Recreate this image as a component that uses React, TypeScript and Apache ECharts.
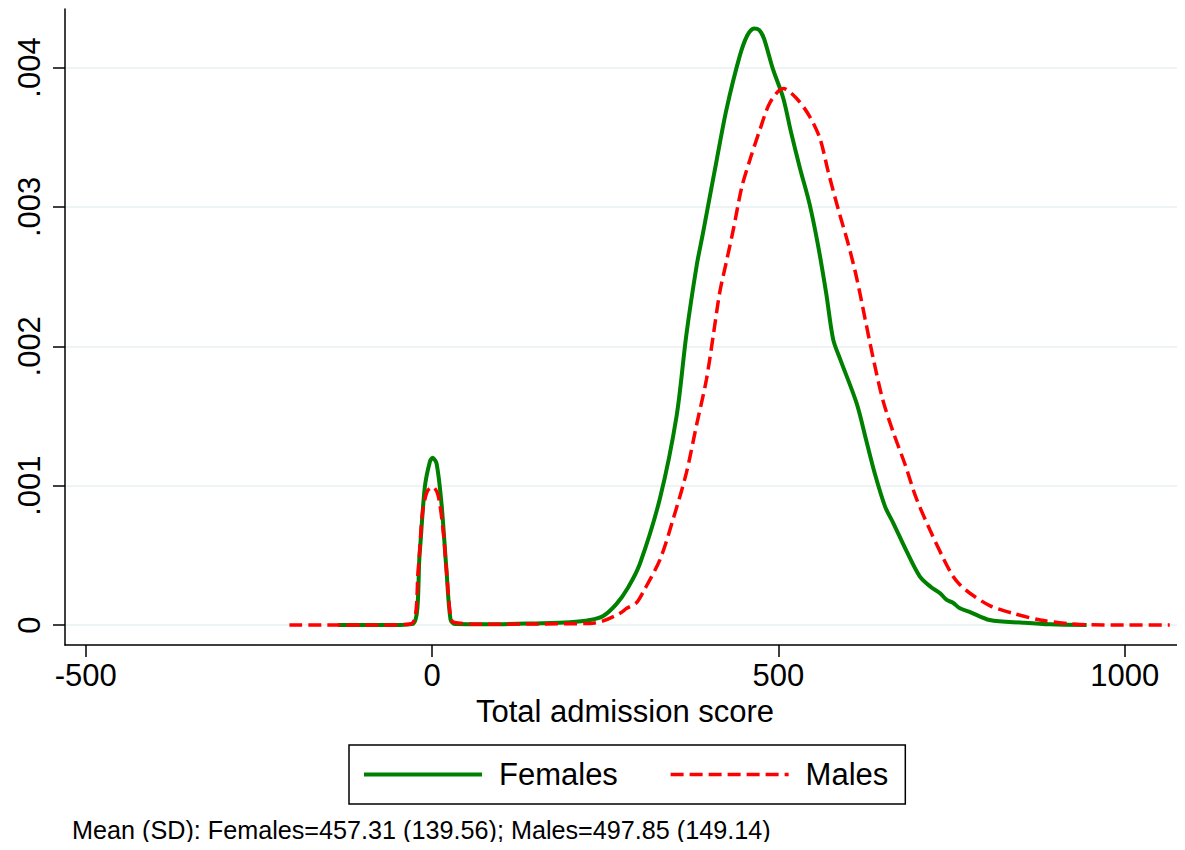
import React, { useEffect, useRef } from "react";
import * as echarts from "echarts";

const FONT = "'Liberation Sans', Arial, Helvetica, sans-serif";

const X_TICKS = [-500, 0, 500, 1000];
const Y_TICKS = [0, 0.001, 0.002, 0.003, 0.004];
const Y_TICK_LABELS = ["0", ".001", ".002", ".003", ".004"];

const SERIES_NAMES = ["Females", "Males"];

const femaleX = [
  -136, -60, -27, -18, -10.5, -3.3, 0.6, 6.4, 13.6, 20.8, 26.6, 33, 80, 150, 199,
  228, 247, 266, 283, 300, 329, 353, 367, 382, 391, 411, 425, 444, 455, 465, 472,
  479, 492, 507, 518, 531, 545, 557, 569, 579, 589, 613, 627, 639, 654, 666, 685,
  704, 721, 733, 743, 752, 762, 776, 805, 853, 892, 945,
];
const femaleY = [
  0, 0, 0.00001, 0.00051, 0.00099, 0.00117, 0.0012, 0.00116, 0.00087, 0.00039,
  0.00004, 0.000007, 0.000005, 0.000012, 0.00002, 0.000036, 0.000065, 0.00015,
  0.00027, 0.00044, 0.00091, 0.0015, 0.00208, 0.00258, 0.00281, 0.00334, 0.0037,
  0.00408, 0.00423, 0.00428, 0.00427, 0.00421, 0.00399, 0.00378, 0.00354, 0.00328,
  0.00302, 0.00273, 0.00238, 0.00205, 0.00191, 0.00159, 0.00132, 0.00109, 0.00085,
  0.00073, 0.00053, 0.00035, 0.00027, 0.00023, 0.00018, 0.00016, 0.00012, 0.000095,
  0.000036, 0.000017, 0.000005, 0,
];

const maleX = [
  -206, -100, -30, -20, -14, -7, 1.4, 8.7, 15.9, 20.8, 26.6, 31, 80, 150, 228, 247,
  271, 281, 295, 305, 329, 348, 367, 382, 396, 406, 415, 425, 435, 447, 459, 473,
  488, 507, 526, 545, 560, 572, 586, 601, 613, 625, 637, 651, 666, 683, 699, 719,
  738, 752, 762, 776, 805, 839, 878, 916, 950, 1000, 1065,
];
const maleY = [
  0, 0, 0.00001, 0.0004, 0.0008, 0.00096, 0.00099, 0.00093, 0.00068, 0.00039,
  0.00006, 0.00002, 0.000005, 0.000008, 0.000012, 0.00003, 0.000084, 0.00012,
  0.00016, 0.00024, 0.00047, 0.00076, 0.00109, 0.00144, 0.00176, 0.00208, 0.00238,
  0.00261, 0.00284, 0.00314, 0.00334, 0.00355, 0.00375, 0.00385, 0.00378, 0.00365,
  0.00349, 0.00325, 0.00299, 0.00273, 0.00249, 0.0022, 0.00191, 0.00161, 0.00138,
  0.00115, 0.00091, 0.00068, 0.00048, 0.00035, 0.00029, 0.00023, 0.00014, 0.000084,
  0.000036, 0.000012, 0.000002, 0, 0,
];

const FOOTNOTE = "Mean (SD): Females=457.31 (139.56); Males=497.85 (149.14)";

const zip = (xs: number[], ys: number[]) => xs.map((x, i) => [x, ys[i]]);

const GREEN = "#008000";
const RED = "#ff0000";
const RED_DASH = [13, 6];

export default function App() {
  const ref = useRef<HTMLDivElement>(null);
  useEffect(() => {
    if (!ref.current) return;
    const chart = echarts.init(ref.current, null, { renderer: "svg" });
    chart.setOption({
      animation: false,
      backgroundColor: "#ffffff",
      grid: { left: 65, right: 0, top: 9, bottom: 205, containLabel: false },
      xAxis: {
        type: "value",
        min: -530,
        max: 1087,
        name: "Total admission score",
        nameLocation: "middle",
        nameGap: 50,
        nameTextStyle: { fontSize: 31, color: "#000", fontFamily: FONT },
        axisLine: { show: true, onZero: false, lineStyle: { color: "#000", width: 1.5 } },
        axisTick: {
          show: true,
          length: 12,
          customValues: X_TICKS,
          lineStyle: { color: "#000", width: 1.5 },
        },
        axisLabel: {
          customValues: X_TICKS,
          fontSize: 31,
          color: "#000",
          fontFamily: FONT,
          margin: 15,
          formatter: (v: number) => String(v),
        },
        splitLine: { show: false },
      },
      yAxis: {
        type: "value",
        min: -0.000143,
        max: 0.00442,
        axisLine: { show: true, onZero: false, lineStyle: { color: "#000", width: 1.5 } },
        axisTick: {
          show: true,
          length: 12,
          customValues: Y_TICKS,
          lineStyle: { color: "#000", width: 1.5 },
        },
        axisLabel: {
          customValues: Y_TICKS,
          rotate: 90,
          fontSize: 31,
          color: "#000",
          fontFamily: FONT,
          margin: 20,
          formatter: (v: number) => Y_TICK_LABELS[Math.round(v * 1000)] ?? "",
        },
        splitLine: { show: true, lineStyle: { color: "#e8f0f3", width: 1.5 } },
      },
      legend: {
        left: 349,
        top: 745,
        orient: "horizontal",
        padding: [14, 17, 14, 13],
        borderColor: "#000",
        borderWidth: 1.5,
        backgroundColor: "#fff",
        itemWidth: 118,
        itemHeight: 31,
        itemGap: 51,
        itemStyle: { opacity: 0 },
        data: [
          { name: SERIES_NAMES[0], lineStyle: { width: 4, color: GREEN } },
          { name: SERIES_NAMES[1], lineStyle: { width: 3.5, color: RED, type: RED_DASH } },
        ],
        formatter: "{t|{name}}",
        textStyle: {
          fontSize: 31,
          color: "#000",
          fontFamily: FONT,
          rich: {
            t: { fontSize: 31, color: "#000", fontFamily: FONT, padding: [0, 0, 0, 12] },
          },
        },
      },
      graphic: [
        {
          type: "text",
          left: 72,
          top: 817,
          style: { text: FOOTNOTE, fontSize: 25.2, fill: "#000", fontFamily: FONT },
        },
      ],
      series: [
        {
          name: SERIES_NAMES[0],
          type: "line",
          data: zip(femaleX, femaleY),
          symbol: "none",
          smooth: 0.3,
          lineStyle: { color: GREEN, width: 4, join: "round" },
          itemStyle: { color: GREEN },
          z: 2,
        },
        {
          name: SERIES_NAMES[1],
          type: "line",
          data: zip(maleX, maleY),
          symbol: "none",
          smooth: 0.3,
          lineStyle: { color: RED, width: 3.5, type: RED_DASH },
          itemStyle: { color: RED },
          z: 3,
        },
      ],
    });
    return () => chart.dispose();
  }, []);
  return <div ref={ref} style={{ width: 1185, height: 850, margin: -8 }} />;
}
